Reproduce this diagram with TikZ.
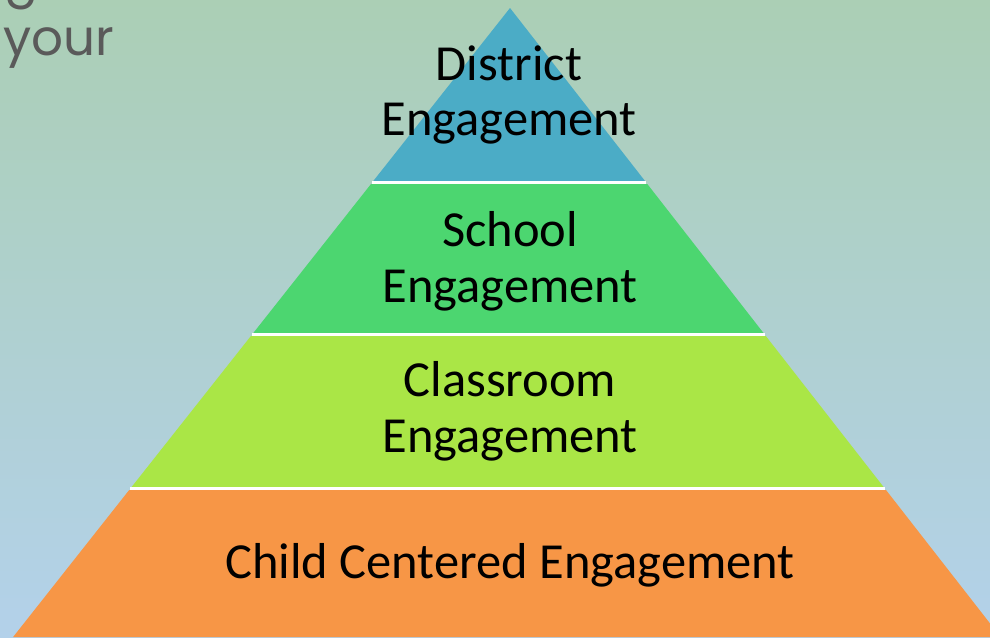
\documentclass[tikz,border=0pt]{standalone}
\usepackage{fontspec}
\setmainfont{Carlito}
\newfontfamily\gothic{Poppins}
\definecolor{bgtop}{HTML}{ABCFB5}
\definecolor{bgbot}{HTML}{B3D1EA}
\definecolor{tierblue}{HTML}{4BACC6}
\definecolor{tiergreen}{HTML}{4CD670}
\definecolor{tierlime}{HTML}{AAE646}
\definecolor{tierorange}{HTML}{F79646}
\definecolor{titlegray}{HTML}{5A5A5A}
\tikzset{
  tierlabel/.style={anchor=base, inner sep=0pt, text=black, font=\fontsize{50.5}{56}\selectfont},
  sep/.style={draw=white, line width=3pt},
}
\begin{document}
\begin{tikzpicture}[x=1pt,y=-1pt]
\useasboundingbox (0,0) rectangle (990,637);
\shade[top color=bgtop, bottom color=bgbot] (0,0) rectangle (990,637);
% heading fragment
\node[anchor=base west, inner sep=0pt, text=titlegray, font=\gothic\fontsize{50}{56}\selectfont] (hg) at (4,-4) {g};
\node[anchor=base west, inner sep=0pt, text=titlegray, font=\gothic\fontsize{50}{56}\selectfont] (hyour) at (3,55) {your};
% tiers
\fill[tierblue] (510,8) -- (373.3,181) -- (645,181) -- cycle;
\fill[tiergreen] (371,184) -- (647.3,184) -- (763.5,333) -- (253.3,333) -- cycle;
\fill[tierlime] (250.9,336) -- (765.8,336) -- (883.6,487) -- (131.6,487) -- cycle;
\fill[tierorange] (129.2,490) -- (886,490) -- (1000.6,637) -- (13.1,637) -- cycle;
% separators
\draw[sep] (372.2,182.5) -- (646.2,182.5);
\draw[sep] (252.1,334.5) -- (764.7,334.5);
\draw[sep] (130.4,488.5) -- (884.8,488.5);
% labels
\node[tierlabel] (d1) at (509,80) {District};
\node[tierlabel] (d2) at (509,135) {Engagement};
\node[tierlabel] (s1) at (510,246) {School};
\node[tierlabel] (s2) at (510,302) {Engagement};
\node[tierlabel] (c1) at (510,396) {Classroom};
\node[tierlabel] (c2) at (510,452) {Engagement};
\node[tierlabel] (ch) at (510,578) {Child Centered Engagement};
\end{tikzpicture}
\end{document}
